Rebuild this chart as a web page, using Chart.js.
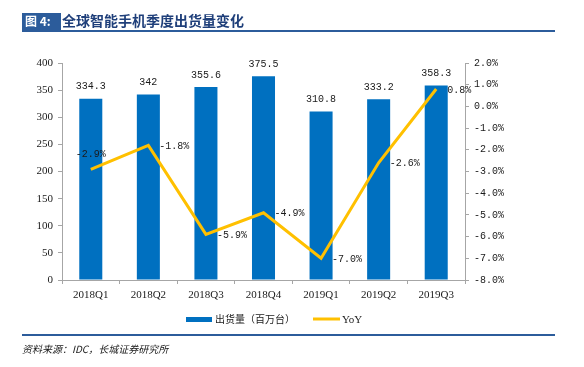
<!DOCTYPE html>
<html>
<head>
<meta charset="utf-8">
<script src="https://cdn.jsdelivr.net/npm/chart.js@4"></script>
<style>
  html, body { margin: 0; padding: 0; background: #fff; }
  #wrap { position: relative; width: 584px; height: 367px; }
</style>
</head>
<body>
<div id="wrap"><canvas id="shipment-chart" width="584" height="367"></canvas></div>
<script>
let quarters = ["2018Q1", "2018Q2", "2018Q3", "2018Q4", "2019Q1", "2019Q2", "2019Q3"];
let shipments = [334.3, 342, 355.6, 375.5, 310.8, 333.2, 358.3];
let yoy = [-2.9, -1.8, -5.9, -4.9, -7.0, -2.6, 0.8];
let shipmentLabel = "出货量（百万台）";
let yoyLabel = "YoY";

let colors = {
  bar: "#0070C0",
  line: "#FFC000",
  axis: "#A6A6A6",
  text: "#1a1a1a",
  navy: "#2C5C9B",
  titleText: "#1F3F7A",
};

let serif = "'Liberation Serif', 'Times New Roman', serif";
let mono = "'Liberation Mono', monospace";
let cjk = "'Noto Sans CJK SC', sans-serif";

// title, legend, source and data labels
let decorations = {
  id: "decorations",
  afterDraw(chart) {
    let ctx = chart.ctx;
    ctx.save();

    // title bar
    ctx.fillStyle = colors.navy;
    ctx.fillRect(22, 13, 39, 17);
    ctx.fillRect(22, 30, 533, 2);
    ctx.fillStyle = "#fff";
    ctx.font = "bold 12px " + cjk;
    ctx.textBaseline = "middle";
    ctx.textAlign = "left";
    ctx.fillText("图 4:", 25, 21.5);
    ctx.fillStyle = colors.titleText;
    ctx.font = "bold 14px " + cjk;
    ctx.fillText("全球智能手机季度出货量变化", 62, 21);

    // bar value labels
    ctx.fillStyle = colors.text;
    ctx.font = "10px " + mono;
    ctx.textAlign = "center";
    let barMeta = chart.getDatasetMeta(1);
    barMeta.data.forEach((bar, i) => {
      ctx.fillText(String(shipments[i]), bar.x, bar.y - 12);
    });

    // yoy labels
    let lineMeta = chart.getDatasetMeta(0);
    lineMeta.data.forEach((pt, i) => {
      let txt = yoy[i].toFixed(1) + "%";
      if (i === 0) {
        ctx.textAlign = "center";
        ctx.fillText(txt, pt.x, pt.y - 15);
      } else {
        ctx.textAlign = "left";
        ctx.fillText(txt, pt.x + 11, pt.y + 1);
      }
    });

    // legend
    ctx.fillStyle = colors.bar;
    ctx.fillRect(186, 317, 26, 5);
    ctx.fillStyle = colors.text;
    ctx.textAlign = "left";
    ctx.font = "10px " + cjk;
    ctx.fillText(shipmentLabel, 215, 319.5);
    ctx.strokeStyle = colors.line;
    ctx.lineWidth = 3;
    ctx.beginPath();
    ctx.moveTo(313, 319);
    ctx.lineTo(340, 319);
    ctx.stroke();
    ctx.font = "11px " + serif;
    ctx.fillText(yoyLabel, 342, 320);

    // source
    ctx.fillStyle = colors.navy;
    ctx.fillRect(22, 334, 533, 2);
    ctx.fillStyle = colors.text;
    ctx.font = "italic 10px " + cjk;
    ctx.fillText("资料来源：IDC，长城证券研究所", 22, 349);

    ctx.restore();
  },
};

let shipmentChart = new Chart("shipment-chart", {
  type: "bar",
  data: {
    labels: quarters,
    datasets: [
      {
        type: "line",
        label: yoyLabel,
        data: yoy,
        borderColor: colors.line,
        backgroundColor: colors.line,
        borderWidth: 3,
        pointRadius: 0,
        tension: 0,
        yAxisID: "y1",
        order: 0,
      },
      {
        type: "bar",
        label: shipmentLabel,
        data: shipments,
        backgroundColor: colors.bar,
        barPercentage: 0.4,
        categoryPercentage: 1,
        yAxisID: "y",
        order: 1,
      },
    ],
  },
  options: {
    responsive: false,
    animation: false,
    layout: {
      padding: { top: 63, left: 0, right: 0, bottom: 0 },
    },
    plugins: {
      legend: { display: false },
      title: { display: false },
      tooltip: { enabled: false },
    },
    scales: {
      x: {
        offset: true,
        afterFit: (scale) => {
          scale.height = 87;
        },
        grid: {
          drawOnChartArea: false,
          drawTicks: true,
          tickLength: 4,
          color: colors.axis,
          offset: true,
        },
        border: { display: true, color: colors.axis },
        ticks: {
          color: colors.text,
          font: { family: serif, size: 11 },
          padding: 5,
        },
      },
      y: {
        position: "left",
        min: 0,
        max: 400,
        afterFit: (scale) => {
          scale.width = 62;
        },
        grid: {
          drawOnChartArea: false,
          tickLength: 4,
          color: colors.axis,
        },
        border: { display: true, color: colors.axis },
        ticks: {
          stepSize: 50,
          color: colors.text,
          font: { family: serif, size: 11 },
          padding: 5,
        },
      },
      y1: {
        position: "right",
        min: -8,
        max: 2,
        afterFit: (scale) => {
          scale.width = 119;
        },
        grid: {
          drawOnChartArea: false,
          tickLength: 4,
          color: colors.axis,
        },
        border: { display: true, color: colors.axis },
        ticks: {
          stepSize: 1,
          color: colors.text,
          font: { family: mono, size: 10 },
          padding: 5,
          callback: (v) => v.toFixed(1) + "%",
        },
      },
    },
  },
  plugins: [decorations],
});
</script>
</body>
</html>
